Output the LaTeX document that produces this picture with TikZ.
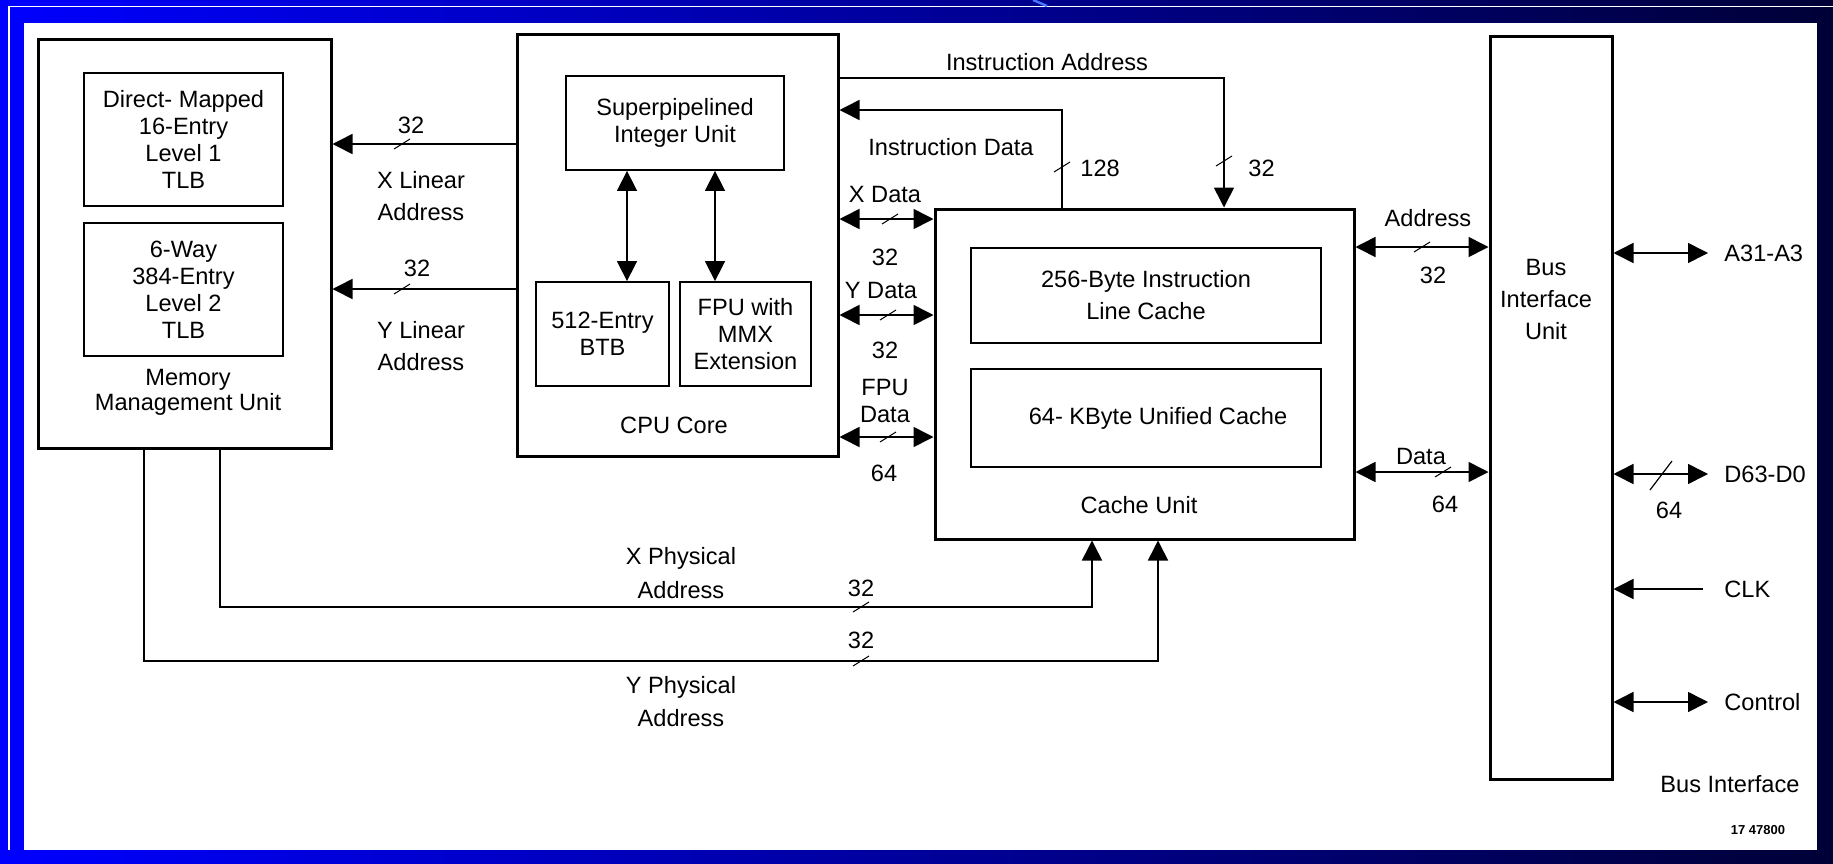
\documentclass[tikz,border=0pt]{standalone}
\usepackage{fontspec}
\setmainfont{Liberation Sans}
\usetikzlibrary{arrows.meta}
\definecolor{slideblue}{RGB}{0,0,255}
\definecolor{slidenavy}{RGB}{0,0,55}
\definecolor{swoosh}{RGB}{70,120,255}
\newcommand{\busmark}[1]{\draw[line width=0.5pt] #1 ++(-8,5) -- ++(16,-10);}

\begin{document}
\begin{tikzpicture}[x=0.5pt,y=-0.5pt,
  font=\fontsize{11.8}{13.5}\selectfont,
  >={Triangle[length=10pt,width=10pt]},
  unitbox/.style={draw,line width=1.5pt,inner sep=0pt,align=center},
  subbox/.style={draw,line width=0.9pt,inner sep=0pt,align=center},
  bus/.style={line width=0.8pt},
  lbl/.style={align=center,inner sep=1pt}]

\useasboundingbox (0,0) rectangle (1833,863);
% slide frame
\shade[left color=slideblue,right color=slidenavy] (0,0) rectangle (1833,863);
\fill[white] (24,23) rectangle (1817,850);
\draw[white,line width=0.8pt] (9,850) -- (9,6.5) -- (1833,6.5);
\draw[swoosh,line width=1.2pt] (1033,0) -- (1047,6);

% units
\node[unitbox,minimum width=146.5pt,minimum height=204.5pt] (mmu) at (184.5,243.5) {};
\node[subbox,minimum width=99.5pt,minimum height=66.5pt] (tlba) at (183.5,139.5) {Direct- Mapped\\16-Entry\\Level 1\\TLB};
\node[subbox,minimum width=99.5pt,minimum height=66.5pt] (tlbb) at (183.5,289.5) {6-Way\\384-Entry\\Level 2\\TLB};
\node[lbl] (mmulbl) at (188,392) {Memory\\[-1pt]Management Unit};

\node[unitbox,minimum width=160.5pt,minimum height=211pt] (cpu) at (677.5,245) {};
\node[subbox,minimum width=109pt,minimum height=47pt] (int) at (675,123) {Superpipelined\\Integer Unit};
\node[subbox,minimum width=66.5pt,minimum height=52pt] (btb) at (602.5,334) {512-Entry\\BTB};
\node[subbox,minimum width=65.5pt,minimum height=52pt] (fpu) at (745.5,334) {FPU with\\MMX\\Extension};
\node[lbl] (cpulbl) at (674,425) {CPU Core};

\node[unitbox,minimum width=209.5pt,minimum height=165pt] (cache) at (1144.5,374) {};
\node[subbox,minimum width=175pt,minimum height=47.5pt] (linec) at (1146,295.5) {256-Byte Instruction\\[2.5pt]Line Cache};
\node[subbox,minimum width=175pt,minimum height=49pt] (unic) at (1146,418) {\hspace*{12pt}64- KByte Unified Cache};
\node[lbl] (cachelbl) at (1139,505) {Cache Unit};

\node[unitbox,minimum width=61pt,minimum height=371.5pt] (biu) at (1551,407.5) {};
\node[lbl] (biulbl) at (1546,299) {Bus\\[2.5pt]Interface\\[2.5pt]Unit};

% MMU <- CPU
\draw[bus,->] (cpu.west |- 0,144) -- (mmu.east |- 0,144);
\draw[bus,->] (cpu.west |- 0,289) -- (mmu.east |- 0,289);
\busmark{(402,144)}
\busmark{(402,289)}
\node[lbl] (xlw) at (411,125) {32};
\node[lbl] (xll) at (421,196) {X Linear\\[2.5pt]Address};
\node[lbl] (ylw) at (417,268) {32};
\node[lbl] (yll) at (421,346) {Y Linear\\[2.5pt]Address};

% inside CPU
\draw[bus,<->] (int.south -| 627,0) -- (btb.north -| 627,0);
\draw[bus,<->] (int.south -| 715,0) -- (fpu.north -| 715,0);

% CPU <-> cache
\draw[bus,->] (cpu.east |- 0,78) -| (cache.north -| 1224,0);
\draw[bus,->] (cache.north -| 1062,0) |- (cpu.east |- 0,110);
\busmark{(1224,161)}
\busmark{(1062,167)}
\node[lbl] (ialbl) at (1047,62) {Instruction Address};
\node[lbl] (idlbl) at (951,147) {Instruction Data};
\node[lbl,anchor=west] (idw) at (1078,168) {128};
\node[lbl,anchor=west] (iaw) at (1246,168) {32};

\draw[bus,<->] (cpu.east |- 0,219) -- (cache.west |- 0,219);
\draw[bus,<->] (cpu.east |- 0,315) -- (cache.west |- 0,315);
\draw[bus,<->] (cpu.east |- 0,437) -- (cache.west |- 0,437);
\busmark{(890,219)}
\busmark{(888,315)}
\busmark{(888,437)}
\node[lbl] (xdlbl) at (885,194) {X Data};
\node[lbl] (xdw) at (885,257) {32};
\node[lbl] (ydlbl) at (881,290) {Y Data};
\node[lbl] (ydw) at (885,350) {32};
\node[lbl] (fdlbl) at (885,401) {FPU\\Data};
\node[lbl] (fdw) at (884,473) {64};

% cache <-> bus interface unit
\draw[bus,<->] (cache.east |- 0,247) -- (biu.west |- 0,247);
\draw[bus,<->] (cache.east |- 0,472) -- (biu.west |- 0,472);
\busmark{(1422,247)}
\busmark{(1443,472)}
\node[lbl] (adlbl) at (1428,218) {Address};
\node[lbl] (adw) at (1433,275) {32};
\node[lbl] (dalbl) at (1421,456) {Data};
\node[lbl] (daw) at (1445,504) {64};

% physical addresses
\coordinate (xphys) at (1092,607);
\coordinate (yphys) at (1158,661);
\draw[bus,->] (mmu.south -| 220,0) |- (xphys) -- (cache.south -| xphys);
\draw[bus,->] (mmu.south -| 144,0) |- (yphys) -- (cache.south -| yphys);
\busmark{(861,607)}
\busmark{(861,661)}
\node[lbl] (xplbl) at (681,573) {X Physical\\[3.5pt]Address};
\node[lbl] (xpw) at (861,588) {32};
\node[lbl] (ywp) at (861,640) {32};
\node[lbl] (yplbl) at (681,702) {Y Physical\\[3pt]Address};

% external bus
\coordinate (apin) at (1708,253);
\coordinate (dpin) at (1708,474);
\coordinate (clkpin) at (1703,589);
\coordinate (ctlpin) at (1708,702);
\draw[bus,<->] (biu.east |- apin) -- (apin);
\draw[bus,<->] (biu.east |- dpin) -- (dpin);
\draw[bus,->] (clkpin) -- (biu.east |- clkpin);
\draw[bus,<->] (biu.east |- ctlpin) -- (ctlpin);
\draw[line width=0.6pt] (1650,490) -- (1672,461);
\node[lbl,anchor=west] (alb) at (1722,253) {A31-A3};
\node[lbl,anchor=west] (dlb) at (1722,474) {D63-D0};
\node[lbl] (dw) at (1669,510) {64};
\node[lbl,anchor=west] (clklb) at (1722,589) {CLK};
\node[lbl,anchor=west] (ctllb) at (1722,702) {Control};
\node[lbl] (bilbl) at (1730,784) {Bus Interface};
\node[lbl,font=\fontsize{6.5}{8}\selectfont\bfseries] (figno) at (1758,830) {17 47800};
\end{tikzpicture}
\end{document}
